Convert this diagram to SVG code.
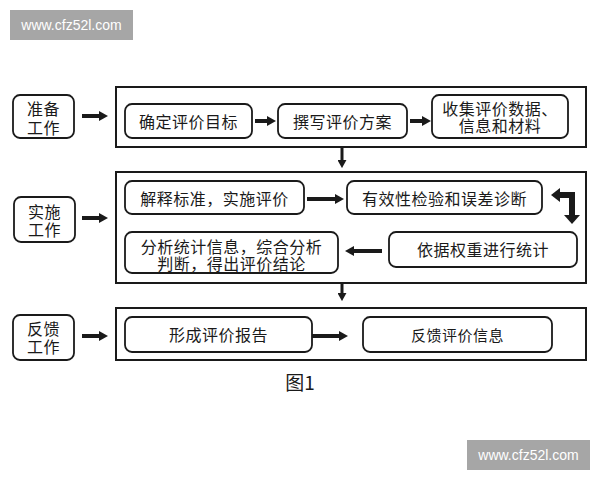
<svg xmlns="http://www.w3.org/2000/svg" width="600" height="480" viewBox="0 0 600 480">
<defs>
<marker id="ah" viewBox="0 0 9 10" markerWidth="9" markerHeight="10" refX="1" refY="5" orient="auto" markerUnits="userSpaceOnUse">
<path d="M0,0 L9,5 L0,10 z" fill="#1a1a1a"/>
</marker>
<marker id="ahs" viewBox="0 0 9 10" markerWidth="8" markerHeight="9" refX="1" refY="5" orient="auto" markerUnits="userSpaceOnUse">
<path d="M0,0 L9,5 L0,10 z" fill="#1a1a1a"/>
</marker>
</defs>
<style>
.wm{fill:#a6a6a6}
.wmt{fill:#fff;font-family:"Liberation Sans",Arial,sans-serif;font-size:14px;text-anchor:middle}
.lbl{fill:#fff;stroke:#1a1a1a;stroke-width:1.8}
.outer{fill:#fff;stroke:#1a1a1a;stroke-width:2}
.box{fill:#fff;stroke:#1a1a1a;stroke-width:1.8}
.t{fill:#1a1a1a;font-family:"Noto Sans CJK SC","Noto Sans",sans-serif;font-size:16px;text-anchor:middle;letter-spacing:0.5px}
.ar{stroke:#1a1a1a;stroke-width:4;fill:none;marker-end:url(#ah)}
.ard{stroke:#1a1a1a;stroke-width:3;fill:none;marker-end:url(#ahs)}
.cap{fill:#1a1a1a;font-family:"Noto Sans CJK SC","Liberation Sans",sans-serif;font-size:19px;text-anchor:middle}
</style>
<rect width="600" height="480" fill="#fff"/>
<g id="watermark-top">
<rect class="wm" x="10" y="10" width="123" height="30"/>
<text class="wmt" x="71.5" y="30">www.cfz52l.com</text>
</g>
<g id="watermark-bottom">
<rect class="wm" x="467" y="440" width="123" height="30"/>
<text class="wmt" x="528.5" y="460">www.cfz52l.com</text>
</g>

<g id="row1-frame"><rect class="outer" x="116" y="87" width="470" height="60"/></g>
<g id="row2-frame"><rect class="outer" x="116" y="172" width="470" height="111"/></g>
<g id="row3-frame"><rect class="outer" x="116" y="308" width="470" height="52"/></g>

<g id="label1"><rect class="lbl" x="13" y="95" width="61" height="43" rx="7"/>
<text class="t" x="43.5" y="114.5">准备<tspan x="43.5" dy="19">工作</tspan></text></g>
<g id="label2"><rect class="lbl" x="14" y="197" width="61" height="45" rx="7"/>
<text class="t" x="44.5" y="217.5">实施<tspan x="44.5" dy="18.5">工作</tspan></text></g>
<g id="label3"><rect class="lbl" x="13" y="315" width="61" height="45" rx="7"/>
<text class="t" x="43.5" y="335">反馈<tspan x="43.5" dy="18">工作</tspan></text></g>

<g id="n1"><rect class="box" x="125" y="104" width="127" height="34" rx="7"/>
<text class="t" x="188.5" y="127.5">确定评价目标</text></g>
<g id="n2"><rect class="box" x="278" y="104" width="129" height="34" rx="7"/>
<text class="t" x="342.5" y="127.5">撰写评价方案</text></g>
<g id="n3"><rect class="box" x="432" y="95" width="136" height="43" rx="7"/>
<text class="t" x="500" y="114.5">收集评价数据、<tspan x="500" dy="17.5">信息和材料</tspan></text></g>

<g id="n4"><rect class="box" x="125" y="181" width="179" height="33" rx="7"/>
<text class="t" x="214.5" y="204.5">解释标准，实施评价</text></g>
<g id="n5"><rect class="box" x="347" y="181" width="195" height="33" rx="7"/>
<text class="t" x="444.5" y="204.5">有效性检验和误差诊断</text></g>
<g id="n6"><rect class="box" x="389" y="232" width="188" height="35" rx="7"/>
<text class="t" x="483" y="256">依据权重进行统计</text></g>
<g id="n7"><rect class="box" x="125" y="232" width="213" height="41" rx="7"/>
<text class="t" x="231.5" y="253">分析统计信息，综合分析<tspan x="231.5" dy="16.5">判断，得出评价结论</tspan></text></g>

<g id="n8"><rect class="box" x="125" y="317" width="187" height="35" rx="7"/>
<text class="t" x="218.5" y="341">形成评价报告</text></g>
<g id="n9"><rect class="box" x="363" y="317" width="189" height="35" rx="7"/>
<text class="t" x="457.5" y="341" style="font-size:15px">反馈评价信息</text></g>

<g id="connectors">
<path class="ar" d="M82,116 L100,116"/>
<path class="ar" d="M82,218 L100,218"/>
<path class="ar" d="M82,336 L100,336"/>
<path class="ar" d="M255,121 L268,121"/>
<path class="ar" d="M410,121 L423,121"/>
<path class="ard" d="M342,148 L342,161"/>
<path class="ar" d="M307,199 L336,199"/>
<path d="M559,195 L572,195 L572,216" stroke="#1a1a1a" stroke-width="6" fill="none"/>
<polygon points="551,195 560,188 560,202" fill="#1a1a1a"/>
<polygon points="572,224 564,215 580,215" fill="#1a1a1a"/>
<path class="ar" d="M382,251 L353,251"/>
<path class="ard" d="M342,284 L342,294"/>
<path class="ar" d="M312,336 L340,336"/>
</g>
<text class="cap" x="300" y="390">图1</text>
</svg>
